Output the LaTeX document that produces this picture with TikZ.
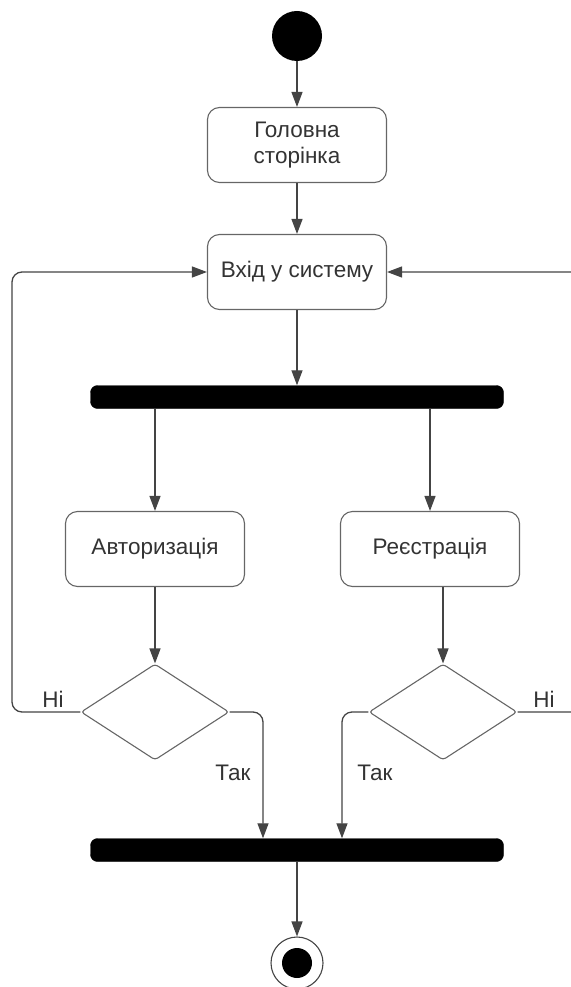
\documentclass[tikz,border=0pt]{standalone}
\usepackage{fontspec}
\setmainfont{Liberation Sans}
\usetikzlibrary{shapes.geometric,arrows.meta}
\definecolor{edge}{HTML}{444444}
\definecolor{frame}{HTML}{666666}
\definecolor{ink}{HTML}{333333}
\begin{document}
\begin{tikzpicture}[x=1pt,y=-1pt,
  txt/.style={font=\fontsize{22.5}{26}\selectfont, text=ink},
  act/.style={txt, draw=frame, line width=1.1pt, rounded corners=12pt,
    minimum width=179pt, minimum height=75pt, align=center, inner sep=0pt},
  bar/.style={fill=black, draw=black, rounded corners=7pt,
    minimum width=413pt, minimum height=23pt, inner sep=0pt},
  dec/.style={diamond, draw=frame, line width=1.1pt, rounded corners=3pt,
    aspect=1.54, minimum width=148pt, minimum height=96pt, inner sep=0pt},
  flow/.style={draw=edge, line width=1.3pt, -{Triangle[length=15pt,width=11pt]}},
  loop/.style={flow, rounded corners=10pt},
  guard/.style={txt}
]
\useasboundingbox (0,0) rectangle (570,987);

% initial node
\node[circle, fill=black, minimum size=50pt, inner sep=0pt] (start) at (297,36) {};

% activities
\node[act] (home)  at (297,145) {Головна\\сторінка};
\node[act] (login) at (297,272) {Вхід у систему};
\node[bar] (fork)  at (297,397) {};
\node[act] (auth)  at (155,549) {Авторизація};
\node[act] (reg)   at (430,549) {Реєстрація};

% decisions
\node[dec] (d1) at (155,712) {};
\node[dec] (d2) at (443,712) {};

% join and final node
\node[bar] (join) at (297,850) {};
\node[circle, draw=edge, line width=1.1pt, minimum size=52pt, inner sep=0pt] (end) at (297,963) {};
\node[circle, fill=black, minimum size=30pt, inner sep=0pt] (endin) at (end) {};

% control flow
\draw[flow] (start) -- (home);
\draw[flow] (home) -- (login);
\draw[flow] (login) -- (fork);
\draw[flow] (auth.north |- fork.south) -- (auth.north);
\draw[flow] (reg.north |- fork.south) -- (reg.north);
\draw[flow] (auth) -- (d1);
\draw[flow] (d2.north |- reg.south) -- (d2.north);
\draw[flow] (join) -- (end);

% retry loops back to login
\coordinate (lc) at (12,712);
\coordinate (rc) at (584,712);
\draw[loop] (d1.west) -- (lc) |- (login.west);
\draw[loop] (d2.east) -- (rc) |- (login.east);

% successful branches into the join bar
\draw[loop] (d1.east) -| ([xshift=-34pt]join.north);
\draw[loop] (d2.west) -| ([xshift=45pt]join.north);

% guards
\node[guard] (g1) at (53,699) {Ні};
\node[guard] (g2) at (233,773) {Так};
\node[guard] (g3) at (375,773) {Так};
\node[guard] (g4) at (544,699) {Ні};
\end{tikzpicture}
\end{document}
